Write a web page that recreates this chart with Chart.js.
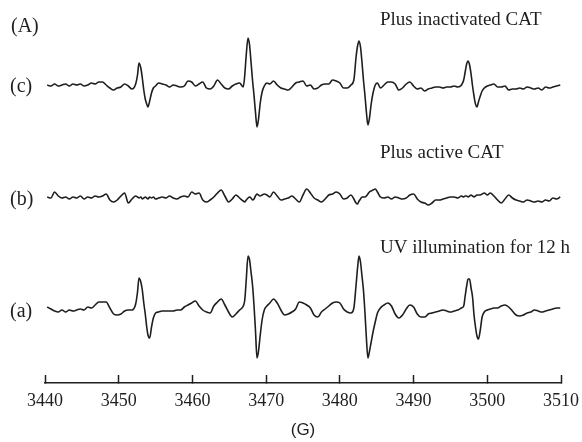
<!DOCTYPE html>
<html>
<head>
<meta charset="utf-8">
<script src="https://cdn.jsdelivr.net/npm/chart.js@4.4.1/dist/chart.umd.min.js"></script>
<style>
  html, body { margin: 0; padding: 0; background: #fff; }
  #wrap { width: 582px; height: 442px; }
</style>
</head>
<body>
<div id="wrap"><canvas id="epr" width="582" height="442"></canvas></div>
<script>
// magnetic field (G); sampled more densely across the four DMPO-OH lines
const fieldG = [
  3440.3, 3440.8, 3441.3, 3441.8, 3442.3, 3442.8, 3443.3, 3443.8, 3444.3, 3444.8,
  3445.3, 3445.8, 3446.3, 3446.8, 3447.3, 3447.8, 3448.3, 3448.8, 3449.3, 3449.8,
  3450.3, 3450.8, 3451.3, 3451.8, 3452.3,
  3452.55, 3452.75, 3453.0, 3453.2, 3453.4, 3453.6, 3453.8, 3453.97, 3454.2, 3454.45, 3454.7, 3455.0,
  3455.4, 3455.9, 3456.4, 3456.9, 3457.4, 3457.9, 3458.4, 3458.9, 3459.4, 3459.9,
  3460.4, 3460.9, 3461.4, 3461.9, 3462.4, 3462.9, 3463.4, 3463.9, 3464.4, 3464.9,
  3465.4, 3465.9, 3466.4, 3466.9,
  3467.1, 3467.3, 3467.54, 3467.75, 3467.95, 3468.15, 3468.35, 3468.55, 3468.76, 3468.95, 3469.2, 3469.45, 3469.75, 3470.1,
  3470.5, 3471.0, 3471.5, 3472.0, 3472.5, 3473.0, 3473.5, 3474.0, 3474.5, 3475.0,
  3475.5, 3476.0, 3476.5, 3477.0, 3477.5, 3478.0, 3478.5, 3479.0, 3479.5, 3480.0,
  3480.5, 3481.0, 3481.5,
  3481.9, 3482.2, 3482.4, 3482.6, 3482.8, 3483.0, 3483.2, 3483.4, 3483.6, 3483.8, 3484.0, 3484.25, 3484.5, 3484.8, 3485.1,
  3485.5, 3486.0, 3486.5, 3487.0, 3487.5, 3488.0, 3488.5, 3489.0, 3489.5, 3490.0,
  3490.5, 3491.0, 3491.5, 3492.0, 3492.5, 3493.0, 3493.5, 3494.0, 3494.5, 3495.0,
  3495.5, 3496.0, 3496.5,
  3496.8, 3497.0, 3497.2, 3497.4, 3497.6, 3497.8, 3498.0, 3498.2, 3498.4, 3498.6, 3498.8, 3499.05, 3499.3, 3499.6, 3500.0,
  3500.4, 3500.9, 3501.4, 3501.9, 3502.4, 3502.9, 3503.4, 3503.9, 3504.4, 3504.9,
  3505.4, 3505.9, 3506.4, 3506.9, 3507.4, 3507.9, 3508.4, 3508.9, 3509.4, 3509.9
];

// (c) plus inactivated CAT
const ampC = [
  0, -1, 1, -1, 0, 1, -1, 1, 0, 1, -1, 0, 2, 1, 3, 3, 0, -3, -5, -3, -2, 1, -1, -4, 1,
  10, 22, 17, 7, -5, -14, -19, -22, -16, -8, -3, -1,
  2, 1, 0, -2, 0, -1, -2, -1, 4, 3, -1, 1, 3, -3, -4, -1, 5, 1, -3, -4, -1, 1, 2, -2,
  10, 30, 47, 40, 23, 5, -10, -27, -42, -35, -18, -7, -1, 2,
  1, 4, 0, -3, -4, -5, -2, 2, 3, 4, -1, 0, -4, -3, 0, 1, 1, 5, 4, 2, -3, -3, 0,
  5, 28, 39, 44, 38, 23, 5, -10, -27, -40, -34, -19, -8, 0, 2,
  -3, 0, 3, 3, 1, -5, -3, 1, 3, -1, -4, -3, -6, -4, -3, -2, -2, -3, -2, -2, -1, -2, 0,
  5, 13, 21, 24, 20, 11, -1, -11, -19, -22, -17, -11, -6, -3, -1,
  0, 1, -2, -2, -1, -5, -4, -4, -3, -4, -2, -3, -4, -3, -5, -2, -3, -2, -1, 0
];

// (b) plus active CAT
const ampB = [
  1, 0, 6, 2, 0, 1, -1, 1, 0, 2, -1, 1, 0, 2, 1, 2, 4, -2, -4, -2, 2, 5, -5, -1, 2,
  1, 0, 1, -1, 0, 1, 0, -1, 1, 0, 1, -1,
  0, 1, 0, 2, 0, -1, 1, 2, 1, 6, 4, 5, -2, -4, -2, 1, 5, 8, 2, -4, -1, 3, 0, -3,
  -4, -2, 0, 1, 0, -2, -1, 2, 4, 3, 2, 3, 4, 3,
  1, 6, 2, -2, -1, 0, 2, -1, -4, 3, 9, 5, 0, -2, -4, -1, 3, 4, 6, 4, -1, 0, 3,
  -1, -5, -6, -3, -1, 1, 1, 1, 2, 4, 6, 7, 8, 9, 6,
  1, 0, 1, -1, 1, 0, -1, 0, 3, 4, -1, -4, -5, -7, -5, -2, -2, -1, 0, 1, 1, 0, 2,
  1, 2, 2, 1, 2, 3, 2, 1, 2, 3, 3, 3, 4, 5, 3,
  5, 2, -2, -5, -1, 3, 0, -2, -3, -4, -2, -3, -4, -3, -4, -2, -3, 0, -1, 1
];

// (a) UV illumination for 12 h
const ampA = [
  3, 1, -1, -2, 0, -2, 0, -1, 0, 1, 0, 3, 2, 5, 8, 8, 8, 2, -4, -5, -4, -1, 0, 0, 6,
  18, 32, 28, 20, 7, -4, -17, -25, -28, -17, -8, -3,
  -2, -1, -1, -1, -1, 0, 0, 3, 5, 7, 9, 4, 0, -2, -3, 4, 8, 11, 5, -2, -7, -4, 0, 4,
  10, 30, 54, 50, 38, 25, 5, -20, -48, -42, -25, -10, 0, 4,
  7, 11, 7, 0, -5, -4, -2, 1, 8, 7, 5, 2, -5, -7, -2, 1, 4, 7, 8, 7, 1, -2, -3,
  2, 25, 42, 54, 48, 34, 20, -2, -28, -48, -42, -32, -22, -12, -3,
  2, 5, 7, 4, -4, -8, -5, 1, 5, 3, -4, -7, -7, -4, -3, -2, -1, 0, -1, -2, -1, 0, 2,
  4, 14, 24, 31, 31, 22, 13, -5, -17, -26, -29, -20, -7, -2, 0,
  1, 2, 2, 4, 5, 3, -1, -5, -6, -5, -3, -2, 0, -1, -2, -1, 0, 1, 2, 2
];

const traceTags = ['(a)', '(b)', '(c)'];
const traceNotes = ['UV illumination for 12 h', 'Plus active CAT', 'Plus inactivated CAT'];

// vertical stacking of the three spectra
const traceShift = [73, 185, 298];

const serif = '"Liberation Serif", "Times New Roman", serif';
const ink = '#1e1e1e';

function stacked(amp, shift){
    return fieldG.map((g, i) => ({ x: g, y: amp[i] + shift }));
}

// panel tag, trace tags and condition notes
const textPlugin = {
    id: 'eprText',
    afterDraw(chart){
        const ctx = chart.ctx;
        const y = chart.scales.y;
        ctx.save();
        ctx.fillStyle = ink;
        ctx.textBaseline = 'alphabetic';
        ctx.textAlign = 'left';
        ctx.font = '20px ' + serif;
        ctx.fillText('(A)', 11, 32);
        traceTags.forEach((t, i) => {
            ctx.fillText(t, 10, y.getPixelForValue(traceShift[i]) + 7);
        });
        ctx.font = '19px ' + serif;
        const noteY = [253, 158, 25];
        traceNotes.forEach((t, i) => ctx.fillText(t, 380, noteY[i]));
        ctx.restore();
    }
};

new Chart(document.getElementById('epr').getContext('2d'), {
    type: 'line',
    data: {
        datasets: [
            { label: '(a)', data: stacked(ampA, traceShift[0]) },
            { label: '(b)', data: stacked(ampB, traceShift[1]) },
            { label: '(c)', data: stacked(ampC, traceShift[2]) }
        ]
    },
    options: {
        responsive: false,
        animation: false,
        parsing: false,
        layout: { padding: { left: 45, right: 21, top: 0, bottom: 0 } },
        plugins: { legend: { display: false }, tooltip: { enabled: false } },
        elements: {
            point: { radius: 0 },
            line: { borderWidth: 1.6, borderColor: ink, fill: false, cubicInterpolationMode: 'monotone' }
        },
        scales: {
            x: {
                type: 'linear',
                min: 3440,
                max: 3510,
                afterFit: s => {
                    s.height = 59;
                    s.paddingLeft = 0;
                    s.paddingRight = 0;
                },
                ticks: {
                    stepSize: 10,
                    padding: 15,
                    maxRotation: 0,
                    color: ink,
                    font: { family: serif, size: 18 },
                    callback: v => String(v)
                },
                grid: { drawOnChartArea: false, tickLength: -8, tickWidth: 1.5, tickColor: ink },
                border: { color: ink, width: 1.5 },
                title: {
                    display: true,
                    text: '(G)',
                    color: ink,
                    font: { family: '"Liberation Sans", Arial, sans-serif', size: 17 },
                    padding: { top: 0, bottom: 1 }
                }
            },
            y: { display: false, min: 0, max: 383 }
        }
    },
    plugins: [textPlugin]
});
</script>
</body>
</html>
